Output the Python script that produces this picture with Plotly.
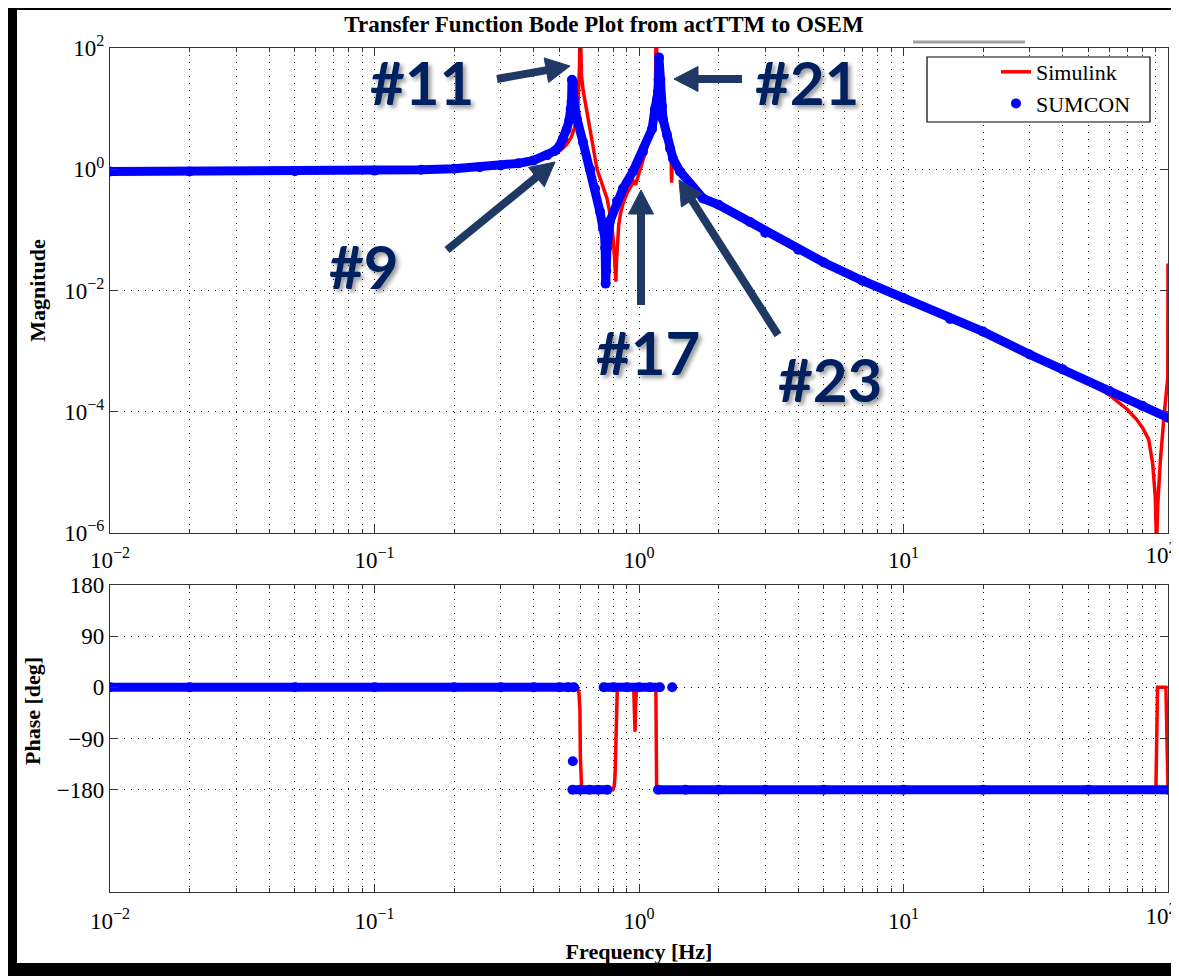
import math
import plotly.graph_objects as go

W, H = 1179, 976
OFF = 8  # the page body margin shifts the figure by 8 px; coordinates below are picture pixels

# ---------------- data ----------------
# Simulink (red line) magnitude
sim_mag_freq = [0.01, 0.02, 0.05, 0.1, 0.15, 0.2, 0.25, 0.3, 0.35, 0.4, 0.45, 0.5, 0.53, 0.555,
                0.57, 0.58, 0.588, 0.593, 0.596, 0.598, 0.601, 0.606, 0.615, 0.625, 0.636, 0.65,
                0.67, 0.694, 0.72, 0.757, 0.78, 0.797, 0.808, 0.814, 0.818, 0.822, 0.828, 0.838,
                0.85, 0.87, 0.9, 0.94, 0.962, 0.97, 0.978, 0.99, 1.035, 1.072, 1.1, 1.129, 1.145,
                1.155, 1.162, 1.168, 1.18, 1.2, 1.232, 1.28, 1.32, 1.328, 1.338, 1.392, 1.52, 1.75,
                2.0, 2.6, 3.0, 4.0, 5.0, 7.0, 10, 15, 20, 30, 40, 50, 60, 70, 76, 80, 84.5, 87.5,
                89.5, 90.5, 91.5, 93.5, 96.6, 99.8, 100]
sim_mag = [0.92, 0.92, 0.93, 0.95, 0.97, 1.01, 1.06, 1.12, 1.22, 1.35, 1.6, 2.0, 2.5, 3.4,
           4.8, 7.0, 12, 22, 50, 500, 80, 35, 20, 13, 9.8, 5.5,
           2.4, 1.0, 0.6, 0.33, 0.17, 0.08, 0.035, 0.018, 0.014, 0.03, 0.07, 0.12,
           0.18, 0.27, 0.4, 0.58, 0.66, 0.55, 0.62, 0.8, 1.5, 2.3, 3.4, 6.0, 10,
           25, 500, 40, 15, 9.0, 4.6, 3.1, 2.3, 0.6, 1.8, 1.15, 0.58, 0.32,
           0.25, 0.13, 0.087, 0.045, 0.028, 0.014, 0.0073, 0.0033, 0.002, 0.00086, 0.00048,
           0.0003, 0.00019, 0.00011, 0.000075, 0.000055, 0.000035, 0.000014,
           0.000004, 0.0000006, 0.000003, 0.000015, 0.000085, 0.00036, 0.028]

# Simulink (red line) phase [deg]
sim_ph_freq = [0.01, 0.585, 0.593, 0.598, 0.6, 0.603, 0.607, 0.795, 0.806, 0.812, 0.817, 0.821,
               0.828, 0.955, 0.961, 0.966, 0.971, 0.978, 1.158, 1.162, 1.166, 90.0, 90.6, 91.3,
               98.2, 99.0, 99.7, 100]
sim_ph = [0, 0, -10, -40, -120, -175, -180, -180, -174, -155, -90, -15,
          0, 0, -35, -78, -35, 0, 0, -90, -180, -180, -90, 0,
          0, -90, -180, -180]

# SUMCON (blue dots) magnitude
sum_mag_freq = [0.01, 0.02, 0.05, 0.1, 0.15, 0.2, 0.25, 0.3, 0.35, 0.4, 0.45, 0.48, 0.5, 0.516,
                0.532, 0.545, 0.552, 0.556, 0.558, 0.563, 0.566, 0.572, 0.583, 0.614, 0.653,
                0.682, 0.712, 0.731, 0.740, 0.745, 0.748, 0.752, 0.757, 0.777, 0.826, 0.87, 0.949,
                1.035, 1.12, 1.149, 1.17, 1.18, 1.186, 1.19, 1.205, 1.222, 1.232, 1.276, 1.31,
                1.344, 1.429, 1.559, 1.746, 2.0, 2.63, 3.0, 4.0, 5.0, 7.0, 10, 15, 20, 30, 40,
                60, 80, 100]
sum_mag = [0.92, 0.92, 0.93, 0.95, 0.98, 1.02, 1.08, 1.15, 1.25, 1.4, 1.7, 2.0, 2.4, 3.2,
           4.5, 6.5, 9.8, 13, 30, 27, 15, 9.0, 6.7, 2.8, 1.0,
           0.48, 0.2, 0.107, 0.09, 0.05, 0.013, 0.021, 0.05, 0.14, 0.3, 0.48, 0.92,
           1.95, 4.6, 9.8, 14, 19, 30, 70, 30, 11, 6.7, 3.7, 2.2,
           1.5, 0.92, 0.56, 0.33, 0.26, 0.135, 0.09, 0.047, 0.029, 0.0145, 0.0075, 0.0034,
           0.0021, 0.00088, 0.0005, 0.00022, 0.000125, 0.00008]

# SUMCON (blue dots) phase [deg]; None separates groups of dots
sum_ph_freq = [0.01, 0.02, 0.05, 0.1, 0.2, 0.3, 0.4, 0.5, 0.54, 0.568, None,
               0.562, None,
               0.56, 0.6, 0.65, 0.7, 0.76, None,
               0.735, 0.8, 0.9, 1.0, 1.1, 1.2, None,
               1.335, None,
               1.18, 1.5, 2, 3, 5, 10, 20, 50, 100]
sum_ph = [0, 0, 0, 0, 0, 0, 0, 0, 0, 0, None,
          -130, None,
          -180, -180, -180, -180, -180, None,
          0, 0, 0, 0, 0, 0, None,
          0, None,
          -180, -180, -180, -180, -180, -180, -180, -180, -180]

freq_ticks = [0.01, 0.1, 1, 10]
freq_labels = ["10<sup>\u22122</sup>", "10<sup>\u22121</sup>", "10<sup>0</sup>", "10<sup>1</sup>"]
freq_end_tick = [100]
freq_end_label = ["10<sup>2</sup>"]
mag_ticks = [1e-6, 1e-4, 1e-2, 1, 100]
mag_labels = ["10<sup>\u22126</sup>", "10<sup>\u22124</sup>", "10<sup>\u22122</sup>", "10<sup>0</sup>", "10<sup>2</sup>"]
phase_ticks = [-180, -90, 0, 90, 180]
phase_labels = ["\u2212180", "\u221290", "0", "90", "180"]

# callouts: text, text centre (px), arrow tip (px), arrow tail (px)
callout_text = ["#11", "#21", "#9", "#17", "#23"]
callout_pos = [(422, 82), (807, 82), (364, 266), (648, 352), (830, 379)]
arrow_tip = [(570, 66), (674, 79), (555, 162), (641, 190), (679, 180)]
arrow_tail = [(497, 79), (742, 79), (447, 250), (641, 305), (778, 335)]


def PX(x):
    return (x - OFF) / W


def PY(y):
    return 1 - (y - OFF) / H


serif = "Liberation Serif"
tickfont = dict(family=serif, size=23, color="black")
minor_vals = [k * 10 ** e for e in range(-2, 2) for k in range(2, 10)]

fig = go.Figure()
fig.add_trace(go.Scatter(x=sim_mag_freq, y=sim_mag, mode="lines", name="Simulink",
                         line=dict(color="#ff0000", width=3.5), xaxis="x", yaxis="y"))
fig.add_trace(go.Scatter(x=sum_mag_freq, y=sum_mag, mode="lines", showlegend=False,
                         line=dict(color="#0000ff", width=9), xaxis="x", yaxis="y",
                         hoverinfo="skip"))
fig.add_trace(go.Scatter(x=sum_mag_freq, y=sum_mag, mode="markers", name="SUMCON",
                         marker=dict(color="#0000ff", size=10), xaxis="x", yaxis="y"))
fig.add_trace(go.Scatter(x=sim_ph_freq, y=sim_ph, mode="lines", showlegend=False,
                         line=dict(color="#ff0000", width=3.5), xaxis="x2", yaxis="y2"))
fig.add_trace(go.Scatter(x=sum_ph_freq, y=sum_ph, mode="lines+markers", showlegend=False,
                         line=dict(color="#0000ff", width=9),
                         marker=dict(color="#0000ff", size=10),
                         connectgaps=False, xaxis="x2", yaxis="y2"))
# empty traces so the label-only axes (right-most "10^2" labels) are drawn
fig.add_trace(go.Scatter(x=[], y=[], mode="lines", showlegend=False, hoverinfo="skip",
                         xaxis="x3", yaxis="y"))
fig.add_trace(go.Scatter(x=[], y=[], mode="lines", showlegend=False, hoverinfo="skip",
                         xaxis="x4", yaxis="y2"))

axis_common = dict(ticks="inside", ticklen=8, tickcolor="#333", tickwidth=1,
                   showline=True, linecolor="#333", linewidth=1.2, mirror="ticks",
                   tickfont=tickfont, zeroline=False, automargin=False,
                   showgrid=True, gridcolor="#111", griddash="1px,6px", gridwidth=1)

xminor = dict(tickmode="array", tickvals=minor_vals, ticks="inside", ticklen=4,
              tickcolor="#333", showgrid=True, gridcolor="#111", griddash="1px,6px",
              gridwidth=1)

# axis that only carries the right-most frequency label (shifted so it stays in the picture)
end_axis = dict(type="log", range=[-2, 2], tickmode="array", tickvals=freq_end_tick,
                ticktext=freq_end_label, ticks="", showgrid=False, showline=False,
                zeroline=False, tickfont=tickfont, ticklabelshift=-7, automargin=False,
                side="bottom")

xdom = [PX(110), PX(1168)]
fig.update_layout(
    template="none",
    width=W, height=H,
    margin=dict(l=0, r=0, t=0, b=0, pad=0, autoexpand=False),
    paper_bgcolor="white", plot_bgcolor="white",
    font=dict(family=serif, color="black", size=22),
    title=dict(text="<b>Transfer Function Bode Plot from actTTM to OSEM</b>",
               font=dict(family=serif, size=23, color="black"),
               x=PX(604), y=PY(24), xanchor="center", yanchor="middle"),
    xaxis=dict(type="log", range=[-2, 2], domain=xdom, anchor="y",
               tickmode="array", tickvals=freq_ticks, ticktext=freq_labels,
               ticklabelstandoff=6, minor=xminor, **axis_common),
    xaxis3=dict(overlaying="x", anchor="y", ticklabelstandoff=6, **end_axis),
    yaxis=dict(type="log", range=[-6, 2], domain=[PY(533), PY(48)], anchor="x",
               tickmode="array", tickvals=mag_ticks, ticktext=mag_labels,
               title=dict(text="<b>Magnitude</b>", font=dict(family=serif, size=22),
                          standoff=12),
               **axis_common),
    xaxis2=dict(type="log", range=[-2, 2], domain=xdom, anchor="y2", matches="x",
                tickmode="array", tickvals=freq_ticks, ticktext=freq_labels,
                ticklabelstandoff=8, minor=xminor,
                title=dict(text="<b>Frequency [Hz]</b>", font=dict(family=serif, size=22),
                           standoff=10),
                **axis_common),
    xaxis4=dict(overlaying="x2", anchor="y2", ticklabelstandoff=8, **end_axis),
    yaxis2=dict(range=[-360, 180], domain=[PY(892), PY(585)], anchor="x2",
                tickmode="array", tickvals=phase_ticks, ticktext=phase_labels,
                **axis_common),
    legend=dict(x=PX(996), y=PY(51), xanchor="left", yanchor="top",
                bgcolor="rgba(0,0,0,0)", borderwidth=0,
                font=dict(family=serif, size=22, color="black"),
                tracegroupgap=0),
    showlegend=True,
)

shapes = []
# legend frame
shapes.append(dict(type="rect", xref="paper", yref="paper", x0=PX(927), x1=PX(1150),
                   y0=PY(122), y1=PY(57), fillcolor="white",
                   line=dict(color="black", width=1.2), layer="above"))
# grey bar at top right
shapes.append(dict(type="line", xref="paper", yref="paper", x0=PX(913), x1=PX(1025),
                   y0=PY(42), y1=PY(42), line=dict(color="#a0a0a0", width=3), layer="above"))
# callout arrows: shaft + triangular head
arrow_color = "#1f3864"
head_len, head_half = 24, 12.5
for (tx, ty), (hx, hy) in zip(arrow_tip, arrow_tail):
    dx, dy = tx - hx, ty - hy
    n = math.hypot(dx, dy)
    ux, uy = dx / n, dy / n
    bx, by = tx - head_len * ux, ty - head_len * uy
    shapes.append(dict(type="line", xref="paper", yref="paper",
                       x0=PX(hx), y0=PY(hy), x1=PX(bx + 2 * ux), y1=PY(by + 2 * uy),
                       line=dict(color=arrow_color, width=8), layer="above"))
    px1, py1 = bx - head_half * uy, by + head_half * ux
    px2, py2 = bx + head_half * uy, by - head_half * ux
    path = "M {:.5f},{:.5f} L {:.5f},{:.5f} L {:.5f},{:.5f} Z".format(
        PX(tx), PY(ty), PX(px1), PY(py1), PX(px2), PY(py2))
    shapes.append(dict(type="path", xref="paper", yref="paper", path=path,
                       fillcolor=arrow_color, line=dict(color=arrow_color, width=1),
                       layer="above"))
# thick black frame around the picture
for (x0, x1, y0, y1) in [(8, 1179, 8, 10), (8, 17, 8, 976), (1171, 1179, 8, 976), (8, 1179, 963, 976)]:
    shapes.append(dict(type="rect", xref="paper", yref="paper", x0=PX(x0), x1=PX(x1),
                       y0=PY(y1), y1=PY(y0), fillcolor="black", line=dict(width=0),
                       layer="above"))
fig.update_layout(shapes=shapes)

annotations = []
# phase axis title (placed as in the reference, above the axis centre)
annotations.append(dict(xref="paper", yref="paper", x=PX(32), y=PY(711), text="<b>Phase [deg]</b>",
                        showarrow=False, textangle=-90, xanchor="center", yanchor="middle",
                        font=dict(family=serif, size=22, color="black")))
for txt, (cx, cy) in zip(callout_text, callout_pos):
    annotations.append(dict(xref="paper", yref="paper", x=PX(cx), y=PY(cy), text="<b>" + txt + "</b>",
                            showarrow=False, xanchor="center", yanchor="middle",
                            font=dict(family="Lato", size=60, color="#002060",
                                      shadow="3px 3px 4px rgba(0,0,0,0.4)")))
fig.update_layout(annotations=annotations)

fig.write_html("out.html")
